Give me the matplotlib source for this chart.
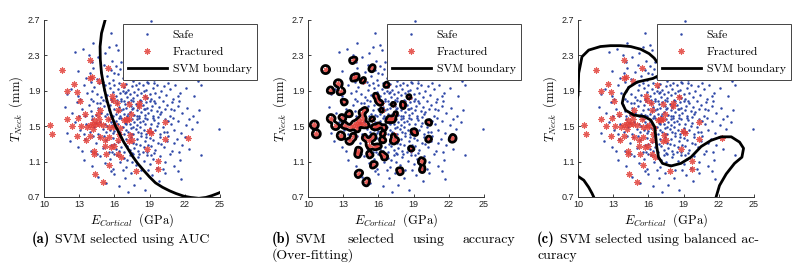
import numpy as np
import matplotlib
matplotlib.use("Agg")
import matplotlib.pyplot as plt

plt.rcParams['mathtext.fontset'] = 'cm'

# ==========================================
# DATA
# ==========================================
x_ticks = [10, 13, 16, 19, 22, 25]
y_ticks = [0.7, 1.1, 1.5, 1.9, 2.3, 2.7]
y_tick_labels = ['0.7', '1.1', '1.5', '1.9', '2.3', '2.7']

# Fractured samples (E_cortical [GPa], T_neck [mm])
fractured = [
    (10.54, 1.515), (10.71, 1.413), (11.5, 2.14), (11.98, 1.90), (11.98, 1.587),
    (12.35, 1.507), (12.58, 1.98), (12.8, 1.89), (13.03, 1.78), (12.83, 1.394),
    (12.94, 1.598), (13.17, 1.50), (13.5, 1.636), (13.54, 1.34), (13.88, 2.247),
    (13.88, 2.043), (14.05, 2.058), (13.88, 1.387), (13.9, 1.515), (14.16, 1.53),
    (14.3, 1.568), (14.44, 1.53), (14.27, 1.22), (14.3, 1.19), (14.36, 0.96),
    (14.67, 2.013), (14.58, 1.643), (14.67, 1.587), (14.73, 1.53), (14.81, 1.38),
    (14.81, 1.68), (15.01, 0.87), (15.24, 1.34), (15.24, 1.274), (15.29, 1.183),
    (15.49, 2.153), (15.49, 1.583), (15.58, 1.38), (15.58, 1.066), (15.72, 1.266),
    (15.8, 1.84), (15.89, 1.794), (15.86, 1.49), (16.0, 1.274), (16.06, 1.51),
    (16.2, 1.764), (16.28, 1.19), (16.34, 1.34), (16.42, 1.417), (16.57, 1.15),
    (16.51, 1.485), (16.71, 1.964), (16.85, 1.568), (17.0, 1.587), (17.1, 1.568),
    (17.27, 1.583), (17.33, 1.398), (17.22, 1.334), (17.5, 1.34), (17.27, 1.749),
    (17.44, 1.643), (17.84, 0.995), (18.07, 1.726), (18.12, 1.76), (18.63, 1.832),
    (18.77, 1.247), (18.97, 1.447), (19.11, 1.428), (19.68, 1.108), (19.74, 1.02),
    (20.3, 1.353), (20.33, 1.549), (22.28, 1.364), (15.58, 1.49), (13.65, 1.49),
    (14.16, 1.473), (15.01, 1.51), (16.28, 1.68),
]

# Safe samples (E_cortical [GPa], T_neck [mm])
safe = [
    (19.1, 2.69), (17.9, 2.61), (15.7, 2.55), (16.8, 2.47), (14.2, 2.44), (18.6, 2.52),
    (20.3, 2.58), (16.1, 2.42),
    (12.6, 2.34), (13.3, 2.37), (14.6, 2.28), (15.2, 2.33), (15.8, 2.24), (16.3, 2.36),
    (16.9, 2.29), (17.4, 2.21), (17.8, 2.38), (18.3, 2.26), (18.9, 2.32), (19.5, 2.23),
    (20.2, 2.35), (21.0, 2.27), (15.5, 2.39), (16.6, 2.22), (17.1, 2.33), (14.1, 2.22),
    (18.7, 2.21), (19.9, 2.29), (22.3, 2.24), (13.8, 2.30),
    (12.9, 2.12), (13.6, 2.05), (14.2, 2.16), (14.5, 2.03), (14.9, 2.11), (15.1, 2.19),
    (15.4, 2.07), (15.7, 2.14), (15.9, 2.02), (16.1, 2.18), (16.3, 2.09), (16.5, 2.15),
    (16.7, 2.04), (16.9, 2.12), (17.1, 2.19), (17.2, 2.06), (17.4, 2.13), (17.6, 2.01),
    (17.8, 2.17), (17.9, 2.08), (18.1, 2.14), (18.3, 2.03), (18.5, 2.11), (18.7, 2.18),
    (18.9, 2.06), (19.2, 2.13), (19.4, 2.02), (19.7, 2.09), (20.0, 2.16), (20.3, 2.04),
    (20.8, 2.11), (21.3, 2.07), (22.0, 2.13), (23.1, 2.01), (13.9, 2.10), (15.0, 2.00),
    (16.0, 2.10), (16.8, 2.20), (17.5, 2.10), (18.2, 2.20), (18.8, 2.00), (19.6, 2.19),
    (20.5, 2.12), (14.0, 2.00), (21.6, 2.18),
    (12.3, 1.92), (12.9, 1.84), (13.4, 1.97), (13.7, 1.88), (14.0, 1.81), (14.3, 1.94),
    (14.5, 1.86), (14.7, 1.99), (14.9, 1.83), (15.1, 1.91), (15.2, 1.97), (15.4, 1.85),
    (15.6, 1.93), (15.7, 1.81), (15.9, 1.89), (16.0, 1.96), (16.1, 1.84), (16.3, 1.92),
    (16.4, 1.99), (16.5, 1.87), (16.6, 1.81), (16.8, 1.94), (16.9, 1.88), (17.0, 1.98),
    (17.1, 1.83), (17.2, 1.91), (17.3, 1.86), (17.5, 1.95), (17.6, 1.82), (17.7, 1.89),
    (17.8, 1.97), (17.9, 1.85), (18.0, 1.92), (18.2, 1.80), (18.3, 1.88), (18.4, 1.96),
    (18.6, 1.84), (18.7, 1.91), (18.9, 1.99), (19.0, 1.86), (19.1, 1.81), (19.3, 1.93),
    (19.5, 1.88), (19.6, 1.97), (19.8, 1.83), (20.0, 1.90), (20.2, 1.95), (20.4, 1.85),
    (20.7, 1.92), (21.0, 1.81), (21.2, 1.97), (21.6, 1.88), (22.1, 1.93), (22.8, 1.84),
    (23.4, 1.96), (13.1, 1.81), (14.1, 1.90), (15.0, 1.80), (15.5, 1.99), (16.2, 1.80),
    (16.7, 1.90), (17.4, 1.80), (18.1, 1.99), (18.8, 1.82), (19.4, 1.99), (20.6, 1.99),
    (21.4, 1.84), (12.0, 1.86), (17.0, 1.89), (18.5, 1.90),
    (11.8, 1.72), (12.4, 1.65), (12.8, 1.77), (13.2, 1.69), (13.5, 1.62), (13.8, 1.74),
    (14.0, 1.67), (14.2, 1.79), (14.4, 1.63), (14.6, 1.71), (14.8, 1.76), (14.9, 1.65),
    (15.1, 1.73), (15.2, 1.61), (15.3, 1.78), (15.5, 1.68), (15.6, 1.74), (15.7, 1.63),
    (15.8, 1.79), (16.0, 1.70), (16.1, 1.64), (16.2, 1.76), (16.3, 1.67), (16.4, 1.72),
    (16.5, 1.61), (16.6, 1.78), (16.7, 1.69), (16.8, 1.64), (16.9, 1.75), (17.0, 1.71),
    (17.1, 1.62), (17.2, 1.77), (17.3, 1.66), (17.4, 1.73), (17.5, 1.69), (17.6, 1.79),
    (17.7, 1.63), (17.8, 1.75), (17.9, 1.68), (18.0, 1.72), (18.1, 1.61), (18.2, 1.78),
    (18.3, 1.66), (18.4, 1.74), (18.5, 1.69), (18.6, 1.63), (18.7, 1.77), (18.8, 1.71),
    (18.9, 1.65), (19.0, 1.79), (19.1, 1.68), (19.2, 1.73), (19.3, 1.62), (19.5, 1.76),
    (19.6, 1.67), (19.8, 1.72), (19.9, 1.64), (20.1, 1.78), (20.3, 1.69), (20.5, 1.74),
    (20.7, 1.62), (20.9, 1.77), (21.1, 1.68), (21.4, 1.73), (21.8, 1.65), (22.2, 1.71),
    (22.7, 1.61), (23.2, 1.68), (13.0, 1.61), (14.5, 1.76), (15.4, 1.64), (16.6, 1.68),
    (17.2, 1.64), (17.9, 1.62), (18.6, 1.70), (19.4, 1.78), (20.0, 1.66), (20.8, 1.70),
    (15.9, 1.61), (16.8, 1.79), (18.3, 1.79), (19.7, 1.60), (21.5, 1.79), (14.1, 1.61),
    (17.6, 1.71),
    (12.0, 1.42), (12.6, 1.55), (13.1, 1.46), (13.6, 1.53), (13.9, 1.44), (14.1, 1.58),
    (14.3, 1.49), (14.6, 1.41), (14.8, 1.55), (15.0, 1.47), (15.2, 1.52), (15.3, 1.43),
    (15.5, 1.58), (15.6, 1.46), (15.8, 1.51), (15.9, 1.42), (16.1, 1.56), (16.2, 1.48),
    (16.3, 1.53), (16.5, 1.44), (16.6, 1.59), (16.7, 1.49), (16.8, 1.41), (16.9, 1.54),
    (17.0, 1.46), (17.1, 1.57), (17.2, 1.43), (17.3, 1.52), (17.4, 1.48), (17.5, 1.58),
    (17.6, 1.41), (17.7, 1.55), (17.8, 1.47), (17.9, 1.51), (18.0, 1.44), (18.1, 1.59),
    (18.2, 1.49), (18.3, 1.42), (18.4, 1.56), (18.5, 1.46), (18.6, 1.53), (18.7, 1.41),
    (18.8, 1.58), (19.0, 1.48), (19.1, 1.52), (19.2, 1.43), (19.4, 1.57), (19.5, 1.46),
    (19.7, 1.54), (19.9, 1.41), (20.1, 1.49), (20.3, 1.58), (20.5, 1.44), (20.8, 1.52),
    (21.1, 1.46), (21.4, 1.56), (21.7, 1.42), (22.1, 1.51), (22.6, 1.47), (23.0, 1.55),
    (24.9, 1.47), (14.4, 1.54), (15.4, 1.50), (16.4, 1.59), (17.0, 1.53), (17.6, 1.49),
    (18.2, 1.55), (18.9, 1.45), (19.6, 1.50), (20.2, 1.43), (21.0, 1.59), (13.4, 1.41),
    (16.0, 1.45), (17.4, 1.41), (18.6, 1.59), (19.3, 1.59), (20.6, 1.56), (22.4, 1.58),
    (15.7, 1.55), (17.9, 1.58),
    (12.2, 1.33), (12.9, 1.27), (13.5, 1.36), (14.0, 1.22), (14.4, 1.31), (14.7, 1.38),
    (15.0, 1.25), (15.3, 1.34), (15.5, 1.21), (15.7, 1.29), (15.9, 1.37), (16.1, 1.24),
    (16.3, 1.32), (16.5, 1.39), (16.6, 1.27), (16.8, 1.21), (17.0, 1.35), (17.1, 1.28),
    (17.3, 1.23), (17.4, 1.38), (17.6, 1.31), (17.7, 1.25), (17.9, 1.36), (18.0, 1.22),
    (18.2, 1.29), (18.3, 1.39), (18.5, 1.26), (18.6, 1.33), (18.8, 1.21), (19.0, 1.37),
    (19.1, 1.28), (19.3, 1.34), (19.5, 1.23), (19.7, 1.31), (19.9, 1.38), (20.2, 1.26),
    (20.5, 1.33), (20.9, 1.22), (21.3, 1.36), (21.8, 1.29), (22.4, 1.24), (23.4, 1.17),
    (21.5, 1.21), (16.0, 1.30), (16.9, 1.30), (17.8, 1.30), (18.7, 1.38), (19.4, 1.20),
    (20.0, 1.30), (14.2, 1.39), (15.1, 1.39), (16.4, 1.22), (17.5, 1.20), (18.4, 1.21),
    (18.9, 1.29), (20.6, 1.39), (22.0, 1.38), (13.2, 1.22), (21.1, 1.31), (15.8, 1.21),
    (13.4, 1.12), (14.1, 1.05), (14.8, 1.16), (15.2, 1.08), (15.6, 1.13), (15.9, 1.02),
    (16.2, 1.17), (16.5, 1.09), (16.8, 1.14), (17.0, 1.04), (17.3, 1.18), (17.5, 1.10),
    (17.8, 1.06), (18.0, 1.15), (18.3, 1.01), (18.5, 1.11), (18.8, 1.17), (19.0, 1.07),
    (19.3, 1.13), (19.6, 1.03), (19.9, 1.16), (20.3, 1.09), (20.7, 1.19), (21.1, 1.05),
    (21.6, 1.12), (16.0, 1.19), (17.1, 1.12), (18.1, 1.19), (19.1, 1.18), (14.5, 1.19),
    (16.7, 1.01), (18.9, 1.00), (20.1, 1.02), (21.4, 0.99), (17.6, 1.19),
    (14.6, 0.93), (15.3, 0.86), (16.0, 0.96), (16.4, 0.82), (16.9, 0.91), (17.4, 0.97),
    (17.7, 0.84), (18.2, 0.92), (18.6, 0.78), (19.2, 0.95), (19.8, 0.88), (20.3, 0.97),
    (21.7, 0.90), (17.2, 0.76), (15.7, 0.99),
]

# SVM boundary of panel (a): selected by AUC
boundary_a_e = [15.3, 15.21, 14.90, 14.78, 14.80, 14.90, 15.10, 15.35, 15.72, 16.1, 16.42,
                16.8, 17.13, 17.55, 17.98, 18.5, 18.97, 19.5, 20.1, 20.7, 21.24, 21.9,
                22.5, 23.2, 23.8, 24.3, 24.9, 25.3]
boundary_a_t = [2.78, 2.70, 2.55, 2.40, 2.25, 2.10, 1.95, 1.80, 1.63, 1.50, 1.42,
                1.32, 1.25, 1.16, 1.08, 1.00, 0.93, 0.86, 0.81, 0.77, 0.74, 0.71,
                0.695, 0.685, 0.695, 0.715, 0.745, 0.77]

# SVM boundary of panel (c): selected by balanced accuracy (two pieces)
boundary_c1_e = [9.9, 10.0, 10.06, 10.34, 10.91, 11.91, 12.77, 13.63, 14.49, 15.34, 16.06,
                 16.49, 16.71, 17.06, 17.2, 17.0, 16.4, 15.06, 14.34, 13.91, 13.77, 14.06,
                 14.77, 15.63, 16.2, 16.54, 16.63, 16.71, 16.86, 17.2, 17.91, 18.77, 19.63,
                 20.49, 21.34, 22.2, 23.06, 23.77, 24.11, 23.97, 23.34, 22.63, 22.06, 21.77,
                 21.7]
boundary_c1_t = [1.80, 1.85, 2.10, 2.285, 2.36, 2.40, 2.41, 2.41, 2.40, 2.37, 2.32,
                 2.27, 2.23, 2.19, 2.13, 2.08, 2.04, 2.00, 1.94, 1.85, 1.76, 1.68,
                 1.625, 1.61, 1.57, 1.49, 1.38, 1.27, 1.15, 1.08, 1.05, 1.08, 1.15,
                 1.27, 1.34, 1.38, 1.38, 1.32, 1.25, 1.15, 1.08, 0.96, 0.83, 0.70,
                 0.65]
boundary_c2_e = [9.9, 10.0, 10.49, 10.91, 11.2, 11.34, 11.45]
boundary_c2_t = [0.96, 0.934, 0.89, 0.81, 0.74, 0.70, 0.66]

# ==========================================
# STYLE
# ==========================================
SAFE_COLOR = '#2f48a8'
FRAC_COLOR = '#e2403a'
LINE_W = 2.0
FIG_H = 269.0
FIG_W = 800.0

fig = plt.figure(figsize=(8.0, 2.69), dpi=100)
axes_left = [44, 308, 578]
axes = [fig.add_axes([l / FIG_W, 1 - 197 / FIG_H, 176 / FIG_W, 177 / FIG_H]) for l in axes_left]

safe_e = [p[0] for p in safe]
safe_t = [p[1] for p in safe]
frac_e = [p[0] for p in fractured]
frac_t = [p[1] for p in fractured]


def draw_points(ax):
    ax.plot(safe_e, safe_t, linestyle='none', marker='o', markersize=1.8,
            markeredgewidth=0, color=SAFE_COLOR, label='Safe', zorder=2)
    ax.plot(frac_e, frac_t, linestyle='none', marker=(8, 2, 0), markersize=4.3,
            markeredgewidth=0.8, color=FRAC_COLOR, alpha=0.85, label='Fractured', zorder=3)


def style_axes(ax):
    ax.set_xlim(10, 25)
    ax.set_ylim(0.7, 2.7)
    ax.set_xticks(x_ticks)
    ax.set_yticks(y_ticks)
    ax.set_yticklabels(y_tick_labels)
    for side in ['top', 'right']:
        ax.spines[side].set_visible(False)
    for side in ['left', 'bottom']:
        ax.spines[side].set_linewidth(0.7)
        ax.spines[side].set_color('#333333')
    ax.tick_params(direction='in', length=2.5, width=0.6, labelsize=6.5, pad=2.5,
                   colors='#222222')
    for lab in ax.get_xticklabels() + ax.get_yticklabels():
        lab.set_fontfamily('Liberation Sans')
    ax.set_xlabel(r'$E_{Cortical}\ \ \mathrm{(GPa)}$', fontsize=9, labelpad=1)
    ax.set_ylabel(r'$T_{Neck}\ \ \mathrm{(mm)}$', fontsize=9, labelpad=2)
    ax.legend(loc='upper left', bbox_to_anchor=(0.447, 0.977), numpoints=1,
              prop={'family': 'cmr10', 'size': 8.5}, fancybox=False, framealpha=1,
              edgecolor='#444444', borderpad=0.45, labelspacing=0.6,
              handlelength=3.3, handletextpad=0.5, borderaxespad=0)
    leg = ax.get_legend()
    leg.get_frame().set_linewidth(0.7)
    leg.set_zorder(10)


# Panel (a)
ax = axes[0]
draw_points(ax)
ax.plot(boundary_a_e, boundary_a_t, color='k', linewidth=LINE_W, label='SVM boundary', zorder=4)
style_axes(ax)

# Panel (b): over-fitted RBF boundary, contour of a kernel decision field
ax = axes[1]
draw_points(ax)
e_lin = np.linspace(9.5, 25.5, 560)
t_lin = np.linspace(0.6, 2.8, 560)
EE, TT = np.meshgrid(e_lin, t_lin)
UU = (EE - 10) / 15.0
VV = (TT - 0.7) / 2.0
sigma = 0.011


def kernel_sum(pe, pt):
    acc = np.zeros_like(UU)
    for e, t in zip(pe, pt):
        du = UU - (e - 10) / 15.0
        dv = VV - (t - 0.7) / 2.0
        acc += np.exp(-(du ** 2 + dv ** 2) / (2 * sigma ** 2))
    return acc


field = kernel_sum(frac_e, frac_t) - 0.35 * kernel_sum(safe_e, safe_t)
ax.contour(EE, TT, field, levels=[0.12], colors='k', linewidths=LINE_W, zorder=4)
ax.plot([], [], color='k', linewidth=LINE_W, label='SVM boundary')
style_axes(ax)

# Panel (c)
ax = axes[2]
draw_points(ax)
ax.plot(boundary_c1_e, boundary_c1_t, color='k', linewidth=LINE_W, label='SVM boundary', zorder=4)
ax.plot(boundary_c2_e, boundary_c2_t, color='k', linewidth=LINE_W, zorder=4)
style_axes(ax)

# ==========================================
# CAPTIONS
# ==========================================
CAP_SIZE = 10
renderer = fig.canvas.get_renderer()


def fy(y_px):
    return 1 - y_px / FIG_H


def caption_line(x_px, y_px, tag, txt, gap_px=5):
    head = fig.text(x_px / FIG_W, fy(y_px), tag, family='cmb10', fontsize=CAP_SIZE + 0.3,
                    va='baseline', ha='left')
    right = head.get_window_extent(renderer).x1
    fig.text((right + gap_px) / FIG_W, fy(y_px), txt, family='cmr10', fontsize=CAP_SIZE,
             va='baseline', ha='left')


def caption_word(x_px, y_px, txt, ha='left'):
    fig.text(x_px / FIG_W, fy(y_px), txt, family='cmr10', fontsize=CAP_SIZE,
             va='baseline', ha=ha)


caption_line(32, 243, '(a)', 'SVM selected using AUC')

caption_line(272, 243, '(b)', 'SVM', gap_px=4)
caption_word(348, 243, 'selected')
caption_word(413, 243, 'using')
caption_word(515, 243, 'accuracy', ha='right')
caption_word(272, 259, '(Over-fitting)')

caption_line(537, 243, '(c)', 'SVM selected using balanced ac-')
caption_word(537, 259, 'curacy')

fig.savefig('out.png', dpi=100)
